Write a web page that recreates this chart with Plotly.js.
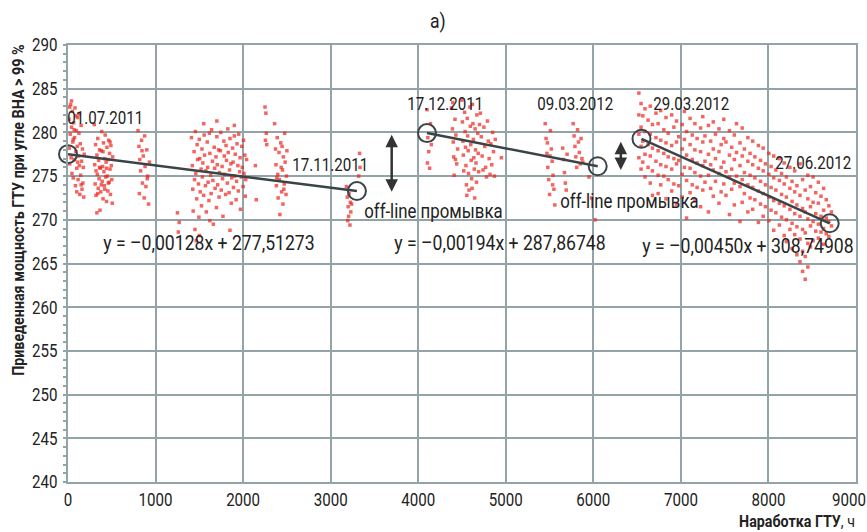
<!DOCTYPE html>
<html><head><meta charset="utf-8">
<script src="https://cdn.plot.ly/plotly-3.0.1.min.js"></script>
<style>html,body{margin:0;padding:0;background:#fff}#chart{width:867px;height:532px}</style>
</head><body><div id="chart"></div>
<script>
// ---- data ----
const xTicks = [0,1000,2000,3000,4000,5000,6000,7000,8000,9000];
const yTicks = [240,245,250,255,260,265,270,275,280,285,290];

// Segment 1 (01.07.2011 - 17.11.2011): [hours, power]
const seg1Pts = [
[10,281.5],[15,278.2],[20,276.4],[25,279.8],[30,283.2],[35,277.1],[40,280.6],[45,275.3],[50,282.4],[55,278.9],
[60,274.8],[65,281.1],[70,276.9],[75,279.4],[80,282.8],[85,273.9],[90,277.8],[95,280.2],[100,275.9],[105,278.4],
[110,281.7],[115,274.6],[120,277.3],[125,279.9],[130,276.2],[135,272.9],[140,278.7],[145,275.1],[150,280.8],[155,276.7],
[160,273.5],[165,278.1],[170,274.2],[175,276.0],[180,272.6],[185,277.5],[20,282.9],[40,283.6],[60,279.2],[90,281.9],
[110,276.6],[130,282.1],[150,274.0],[100,273.2],[70,280.3],
[300,280.9],[305,276.3],[310,274.1],[315,278.6],[320,272.8],[330,277.4],[335,275.2],[340,279.3],[345,273.6],[350,276.8],
[355,274.7],[360,278.0],[365,271.1],[370,275.9],[375,273.2],[380,277.9],[385,280.1],[390,274.4],[395,276.1],[400,272.4],
[405,278.8],[410,275.5],[415,273.9],[420,277.0],[425,279.7],[430,274.9],[435,276.6],[440,272.1],[445,278.3],[450,275.0],
[455,273.3],[460,276.9],[465,279.1],[470,274.3],[475,277.6],[480,275.8],[485,272.9],[490,278.5],[495,276.2],[500,274.6],
[505,271.9],[510,277.2],[320,275.6],[340,273.0],[360,276.0],[380,274.0],[400,277.8],[420,273.5],[440,275.9],[460,274.2],
[480,278.9],[330,270.8],
[800,280.2],[810,278.4],[820,276.9],[830,275.6],[840,279.1],[850,274.2],[860,277.3],[870,272.5],[880,276.1],[890,273.8],
[900,278.0],[910,275.0],[920,271.8],[930,276.6],[815,273.0],[845,277.9],[875,279.6],[905,274.7],
[1250,270.8],[1270,269.7],[1260,268.6],
[1410,279.4],[1420,276.2],[1425,273.5],[1430,271.0],[1440,277.8],[1445,274.6],[1450,268.9],[1455,280.1],[1460,275.3],[1470,272.4],
[1475,278.6],[1480,276.9],[1490,274.1],[1495,270.3],[1500,279.2],[1505,277.0],[1510,273.2],[1520,275.8],[1525,271.6],[1530,278.1],
[1535,274.9],[1540,276.5],[1550,272.8],[1555,279.7],[1560,277.4],[1570,273.9],[1575,275.6],[1580,270.9],[1590,278.9],[1595,276.0],
[1600,274.3],[1610,272.2],[1615,279.9],[1620,277.6],[1630,275.1],[1635,273.0],[1640,280.3],[1650,276.7],[1655,274.5],[1660,269.5],
[1670,278.3],[1675,275.9],[1680,273.6],[1690,277.2],[1695,271.4],[1700,279.5],[1705,276.3],[1710,274.0],[1720,278.0],[1725,272.6],
[1730,275.4],[1740,277.9],[1745,280.0],[1750,273.4],[1760,276.1],[1765,274.7],[1770,270.4],[1780,279.0],[1785,277.3],[1790,275.2],
[1800,272.9],[1805,278.5],[1810,276.8],[1820,274.2],[1825,280.4],[1830,277.7],[1840,273.1],[1845,275.7],[1850,279.3],[1860,276.4],
[1865,271.9],[1870,274.8],[1880,278.2],[1885,276.6],[1890,273.7],[1900,279.6],[1905,275.0],[1910,277.5],[1920,272.3],[1925,274.4],
[1930,278.7],[1940,276.2],[1945,273.3],[1950,279.8],[1960,275.5],[1965,277.1],[1970,271.2],[1980,274.9],[1985,278.4],[1990,276.0],
[2000,273.8],[2005,279.1],[2010,275.3],[2020,277.4],[2025,272.7],[2030,274.6],[2040,276.9],[1465,267.6],[1500,268.2],[1850,268.8],
[1620,269.9],[1550,281.0],[1700,281.3],[1900,280.8],
[2140,276.2],[2150,272.3],
[2250,282.9],[2260,282.2],[2265,279.9],[2255,279.1],[2270,278.6],
[2360,281.0],[2370,278.1],[2375,276.3],[2380,273.9],[2390,279.4],[2395,275.2],[2400,272.5],[2410,277.7],[2415,274.6],[2420,270.6],
[2430,278.8],[2435,276.0],[2440,273.2],[2450,275.7],[2455,271.8],[2460,277.2],[2470,274.1],[2475,279.9],[2480,276.6],[2490,272.9],
[2495,275.0],[2500,277.9],[2385,274.8],[2445,278.4],[2465,273.5],
[3180,273.8],[3190,272.6],[3200,271.5],[3205,270.4],[3210,273.0],[3220,269.4],[3225,272.0],[3230,270.9],[3240,271.8],[3195,269.9],
[3330,277.6],[3335,276.0],[3320,275.0]
];

// Segment 2 (17.12.2011 - 09.03.2012)
const seg2Pts = [
[4100,282.6],[4110,279.4],[4120,277.8],[4130,275.9],[4140,281.0],[4150,278.6],[4105,276.5],
[4380,282.8],[4390,280.4],[4400,278.9],[4405,277.2],[4410,275.1],[4420,281.5],[4430,279.7],[4440,276.4],[4450,278.1],[4395,283.4],[4425,276.9],
[4500,283.7],[4505,281.2],[4510,279.0],[4515,277.4],[4520,275.6],[4530,282.3],[4535,280.1],[4540,278.3],[4545,276.2],[4550,274.0],
[4560,281.6],[4565,279.6],[4570,277.9],[4575,275.3],[4580,273.4],[4590,282.9],[4595,280.7],[4600,278.6],[4605,276.8],[4610,274.7],
[4620,283.2],[4625,281.0],[4630,279.2],[4635,277.1],[4640,275.8],[4650,280.4],[4655,278.0],[4660,276.5],[4665,274.3],[4670,282.0],
[4680,279.9],[4685,277.6],[4690,275.5],[4700,280.9],[4555,272.8],[4615,273.6],[4645,272.5],
[4710,282.2],[4720,279.5],[4730,277.3],[4740,275.7],[4750,280.6],[4760,278.4],[4770,276.0],[4780,274.9],[4790,281.3],[4800,279.0],
[4810,277.0],[4820,275.2],[4830,278.7],[4840,276.3],[4850,280.0],[4860,277.8],[4870,275.0],[4880,279.2],[4950,277.1],
[5450,281.0],[5460,279.3],[5470,277.6],[5480,276.0],[5490,274.6],[5500,272.9],[5510,280.2],[5520,278.1],[5530,276.7],[5540,275.1],
[5550,273.5],[5560,271.7],[5475,278.8],[5505,277.3],[5535,274.0],
[5650,278.2],[5660,276.9],[5670,275.4],[5680,274.2],[5690,273.4],[5700,277.5],
[5770,281.0],[5780,279.6],[5790,278.4],[5800,277.2],[5810,276.0],[5820,280.3],[5830,278.9],[5840,277.7],[5850,276.4],[5860,279.3],
[5870,277.0],[5880,276.6],
[5950,274.9],[5980,272.5],[6020,270.0]
];

// Segment 3 (29.03.2012 - 27.06.2012): columns of hours and their readings
const seg3Hours = [6520,6545,6565,6590,6625,6650,6675,6715,6740,6770,6805,6830,6855,6895,6920,6950,6975,7015,7040,7065,
7105,7130,7160,7185,7225,7250,7275,7315,7340,7370,7395,7435,7460,7490,7515,7555,7580,7610,7635,7675,
7700,7725,7765,7790,7820,7845,7885,7910,7940,7965,8005,8030,8060,8085,8125,8150,8180,8205,8245,8270,
8300,8325,8360,8390,8420,8450,8480,8510,8540,8570,8600,8630,8660,8690,8720];
const seg3Power = [
[284.5,282.0,279.8,277.1],[283.3,280.6,278.4,275.8],[281.9,279.0,276.6],[282.7,280.1,277.5,274.9],[281.4,278.6,276.0],
[283.0,279.8,277.3,274.2],[280.9,278.2,275.6,272.8],[282.2,279.4,276.7],[281.0,277.9,275.1,273.0],[282.5,279.1,276.3,274.0],
[280.3,277.6,275.0],[281.7,278.8,276.1,272.4],[279.9,277.2,274.6],[282.0,278.5,275.8,273.3],[280.6,277.0,274.1],
[281.3,278.9,276.4,271.8],[279.5,276.8,273.9],[280.9,278.1,275.2,272.6],[282.4,279.2,276.0],[280.1,277.4,274.5,270.2],
[281.6,278.6,275.9,273.1],[279.7,276.9,274.0],[281.0,278.0,275.4,272.2],[279.3,276.5,273.7],[280.5,277.8,275.0,271.5],
[281.8,278.9,276.2,273.4],[279.6,276.7,274.3],[280.8,277.5,275.1,270.9],[279.0,276.3,273.6],[281.2,278.1,275.7,272.7],
[279.8,277.0,274.4],[280.4,277.8,275.3,271.9],[278.6,276.0,273.2],[281.5,279.3,276.6,274.1],[278.9,275.5,272.8],
[280.2,277.4,274.9,270.6],[278.3,275.8,273.5],[279.7,276.9,274.2,271.7],[281.0,277.7,275.0],[278.8,276.2,273.8,269.8],
[280.5,277.3,274.6,272.0],[278.1,275.4,273.0],[279.4,276.7,274.0,270.9],[277.6,275.1,272.5],[279.0,276.3,273.7,271.2],
[277.2,274.8,272.3],[278.5,275.9,273.3,269.7],[276.8,274.4,271.8],[278.2,275.6,273.0,270.4],[276.4,274.0,271.5],
[277.6,275.2,272.6,269.9],[276.1,273.7,271.1],[277.3,274.8,272.2,268.8],[275.7,273.4,270.8],[277.0,274.5,271.9,269.4],
[275.3,272.9,270.3],[276.5,274.1,271.6,268.2],[274.9,272.6,270.0,267.5],[276.0,273.6,271.2,268.9],[274.4,272.1,269.6,266.7],
[275.6,273.2,270.7,268.3],[273.9,271.7,269.2,266.0],[276.4,272.8,270.4,267.8,265.2],[274.6,271.3,268.9,266.4,264.1],[273.4,270.9,268.5,265.8,263.2],
[275.1,272.4,270.1,267.3,264.6],[273.8,271.5,269.3,266.9],[274.9,272.0,269.8,267.6],[273.1,270.7,268.7],[274.3,271.9,269.5,267.9],
[272.7,270.4,268.6],[273.6,271.1,269.0,267.2],[272.3,270.2,268.4],[271.6,269.8,268.1],[270.9,269.3]
];

// Trend lines (end points) and the marked points
const trend1X = [0, 3300],    trend1Y = [277.51, 273.29];
const trend2X = [4100, 6050], trend2Y = [279.92, 276.13];
const trend3X = [6550, 8700], trend3Y = [279.27, 269.60];
const dateLabels = ['01.07.2011','17.11.2011','17.12.2011','09.03.2012','29.03.2012','27.06.2012'];
const dateX = [423, 2992, 4306, 5785, 7120, 8513];
const dateY = [281.7, 276.3, 283.3, 283.3, 283.3, 276.5];
const eqLabels = ['y = –0,00128x + 277,51273','y = –0,00194x + 287,86748','y = –0,00450x + 308,74908'];
const eqX = [1610, 4939, 7771];
const eqY = [267.4, 267.4, 267.0];
const washLabel = 'off-line промывка';
const washX = [4180, 6418];
const washY = [271.0, 272.2];
const arrowX = [3697, 6314];
const arrowTop = [279.9, 279.1];
const arrowBottom = [273.2, 275.7];

// ---- build ----
const FONT = 'Roboto, "Noto Sans", sans-serif';
const SQUEEZE = 0.84;   // condensed look
const GRID = '#93a4a8';
const px = [], py = [];
seg1Pts.concat(seg2Pts).forEach(p => { px.push(p[0]); py.push(p[1]); });
seg3Hours.forEach((h, i) => seg3Power[i].forEach(v => { px.push(h); py.push(v); }));

const traces = [
  {x: px, y: py, type: 'scatter', mode: 'markers',
   marker: {symbol: 'square', size: 3.5, color: 'rgba(236,36,28,0.7)', line: {width: 0}}},
  {x: trend1X, y: trend1Y, mode: 'lines', line: {color: '#3a4447', width: 2.5}},
  {x: trend2X, y: trend2Y, mode: 'lines', line: {color: '#3a4447', width: 2.5}},
  {x: trend3X, y: trend3Y, mode: 'lines', line: {color: '#3a4447', width: 2.5}},
  {x: trend1X.concat(trend2X, trend3X), y: trend1Y.concat(trend2Y, trend3Y), mode: 'markers', cliponaxis: false,
   marker: {symbol: 'circle-open', size: 18, color: '#3a4447', line: {width: 2, color: '#3a4447'}}}
];

const ann = [];
dateLabels.forEach((t, i) => ann.push({x: dateX[i], y: dateY[i], text: t, showarrow: false, xanchor: 'center', yanchor: 'middle',
  font: {family: FONT, size: 18, color: '#222'}}));
eqLabels.forEach((t, i) => ann.push({x: eqX[i], y: eqY[i], text: t, showarrow: false, xanchor: 'center', yanchor: 'middle',
  font: {family: FONT, size: 21, color: '#222'}}));
washX.forEach((xv, i) => ann.push({x: xv, y: washY[i], text: washLabel, showarrow: false, xanchor: 'center', yanchor: 'middle',
  font: {family: FONT, size: 20, color: '#222'}}));
arrowX.forEach((xv, i) => ann.push({x: xv, y: arrowBottom[i], ax: xv, ay: arrowTop[i], axref: 'x', ayref: 'y', text: '',
  showarrow: true, arrowhead: 2, startarrowhead: 2, arrowside: 'end+start', arrowsize: 1, arrowwidth: 2.5, arrowcolor: '#333'}));
ann.push({xref: 'paper', yref: 'paper', x: -0.063, y: 0.622, textangle: -90, showarrow: false, xanchor: 'center', yanchor: 'middle',
  text: '<b>Приведенная мощность ГТУ при угле ВНА > 99 %</b>', font: {family: FONT, size: 17, color: '#222'}});
ann.push({xref: 'paper', yref: 'paper', x: 0.925, y: -0.089, showarrow: false, xanchor: 'center', yanchor: 'middle',
  text: '<b>Наработка ГТУ</b>, ч', font: {family: FONT, size: 17, color: '#222'}});

const axisCommon = {showgrid: true, gridcolor: GRID, gridwidth: 2, zeroline: false, showline: true, mirror: true,
  linecolor: GRID, linewidth: 2, ticks: '', ticklabeloverflow: 'allow', tickfont: {family: FONT, size: 18, color: '#222'}};

const layout = {
  width: 867, height: 532, margin: {l: 68, r: 11, t: 45, b: 50},
  paper_bgcolor: '#fff', plot_bgcolor: '#fff', showlegend: false,
  title: {text: 'а)', x: 0.505, xanchor: 'center', y: 0.962, yanchor: 'middle', font: {family: FONT, size: 21, color: '#222'}},
  xaxis: Object.assign({}, axisCommon, {range: [0, 9000], tickvals: xTicks}),
  yaxis: Object.assign({}, axisCommon, {range: [240, 290], tickvals: yTicks, ticklabelstandoff: 5,
    minor: {dtick: 1, ticks: 'outside', ticklen: 3, tickwidth: 2, tickcolor: GRID, showgrid: false}}),
  annotations: ann
};
Plotly.newPlot('chart', traces, layout, {staticPlot: true, displayModeBar: false}).then(gd => {
  // squeeze every text horizontally around its own anchor point
  gd.querySelectorAll('svg text').forEach(t => {
    const x = parseFloat(t.getAttribute('x')) || 0;
    let tr = t.getAttribute('transform') || '';
    // keep the last x tick label inside the picture, as in the reference
    if (t.closest('.xtick') && t.textContent === '9000') tr += ' translate(-7,0)';
    t.setAttribute('transform', tr + ' translate(' + x + ',0) scale(' + SQUEEZE + ',1) translate(' + (-x) + ',0)');
  });
});
</script></body></html>
